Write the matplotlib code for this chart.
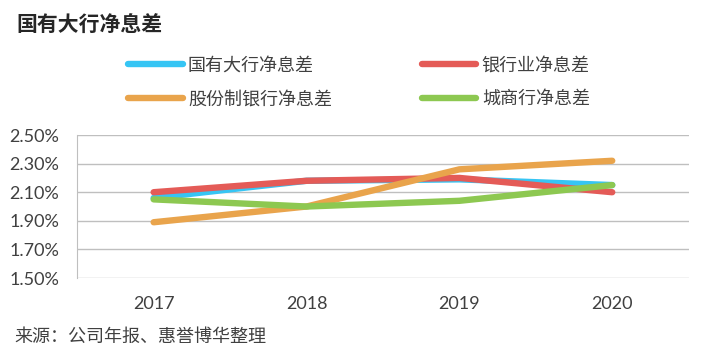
import matplotlib
matplotlib.use("Agg")
import matplotlib.pyplot as plt
from matplotlib.ticker import FuncFormatter
import numpy as np

years = ["2017", "2018", "2019", "2020"]
big_banks = [2.06, 2.18, 2.19, 2.15]     # 国有大行净息差
all_banks = [2.10, 2.18, 2.20, 2.10]     # 银行业净息差
joint_stock = [1.89, 2.00, 2.26, 2.32]   # 股份制银行净息差
city_banks = [2.05, 2.00, 2.04, 2.15]    # 城商行净息差

cjk = ["Noto Sans CJK SC", "DejaVu Sans"]
num_font = ["Lato", "DejaVu Sans"]

fig = plt.figure(figsize=(7.02, 3.62), dpi=100)
ax = fig.add_axes([0.110, 0.232, 0.871, 0.395])

x = np.arange(len(years))
series = [
    ("国有大行净息差", big_banks, "#36C5F4"),
    ("银行业净息差", all_banks, "#E45B57"),
    ("股份制银行净息差", joint_stock, "#E9A44C"),
    ("城商行净息差", city_banks, "#8DC851"),
]
handles = {}
for name, vals, col in series:
    h, = ax.plot(x, vals, color=col, lw=4.6, solid_capstyle="round",
                 solid_joinstyle="round", label=name)
    handles[name] = h

ax.set_xlim(-0.5, 3.5)
ax.set_ylim(1.5, 2.5)
ax.set_yticks(np.arange(1.5, 2.51, 0.2))
ax.yaxis.set_major_formatter(FuncFormatter(lambda v, p: "%.2f%%" % v))
ax.set_xticks(x)
ax.set_xticklabels(years)
ax.grid(axis="y", color="#BFBFBF", lw=1)
ax.set_axisbelow(True)
for s in ["top", "right", "bottom"]:
    ax.spines[s].set_visible(False)
ax.spines["left"].set_color("#BFBFBF")
ax.tick_params(length=0, colors="#404040", labelsize=13)
ax.tick_params(axis="x", pad=13)
ax.tick_params(axis="y", pad=13)
for lab in ax.get_xticklabels() + ax.get_yticklabels():
    lab.set_family(num_font)

# legend rows: blue, red / orange, green (column-major fill)
order = ["国有大行净息差", "股份制银行净息差", "银行业净息差", "城商行净息差"]
leg = fig.legend([handles[n] for n in order], order, ncol=2,
                 loc="upper left", bbox_to_anchor=(0.170, 0.868),
                 frameon=False, borderpad=0, handlelength=3.0,
                 handletextpad=0.3, columnspacing=5.0, labelspacing=0.85,
                 prop={"family": cjk, "size": 13})
for t in leg.get_texts():
    t.set_color("#404040")

fig.text(0.024, 0.931, "国有大行净息差", family=cjk, fontsize=15,
         fontweight="bold", color="#262626", va="center")
fig.text(0.021, 0.069, "来源：公司年报、惠誉博华整理", family=cjk, fontsize=13,
         color="#404040", va="center")

fig.savefig("out.png", dpi=100)
